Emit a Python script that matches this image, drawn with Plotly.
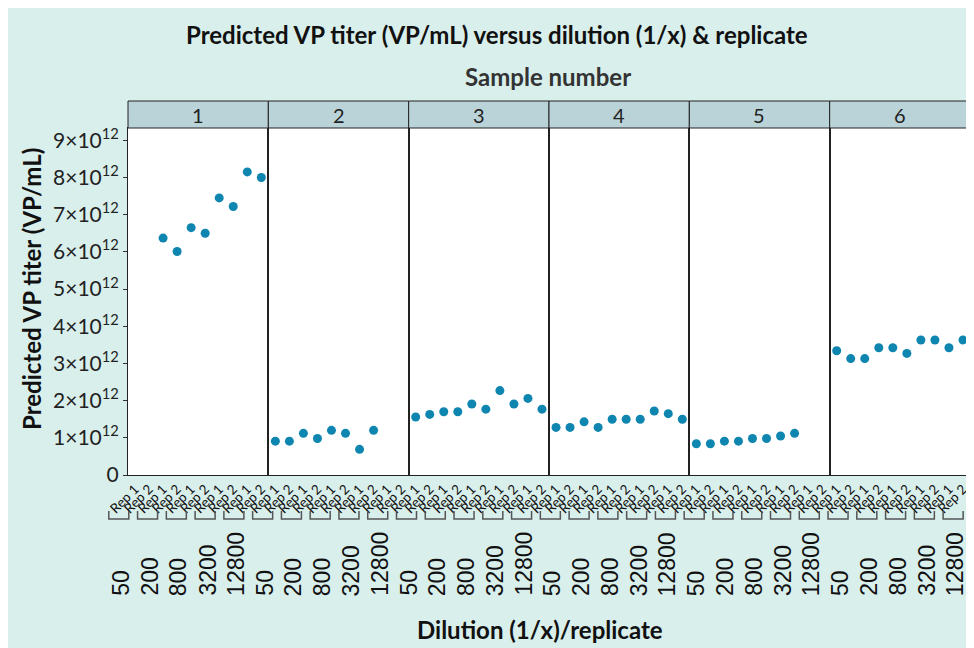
import plotly.graph_objects as go
from plotly.subplots import make_subplots

# ---------------- data ----------------
samples = ["1", "2", "3", "4", "5", "6"]
dilutions = ["50", "200", "800", "3200", "12800"]
replicates = ["Rep 1", "Rep 2"]

titer_s1 = [None, None, 6.37e12, 6.01e12, 6.65e12, 6.50e12, 7.45e12, 7.22e12, 8.15e12, 8.00e12]
titer_s2 = [0.91e12, 0.91e12, 1.12e12, 0.98e12, 1.20e12, 1.12e12, 0.69e12, 1.20e12, None, None]
titer_s3 = [1.56e12, 1.63e12, 1.70e12, 1.70e12, 1.91e12, 1.77e12, 2.27e12, 1.91e12, 2.06e12, 1.77e12]
titer_s4 = [1.28e12, 1.28e12, 1.43e12, 1.28e12, 1.50e12, 1.50e12, 1.50e12, 1.72e12, 1.65e12, 1.50e12]
titer_s5 = [0.84e12, 0.84e12, 0.91e12, 0.91e12, 0.98e12, 0.98e12, 1.05e12, 1.12e12, None, None]
titer_s6 = [3.34e12, 3.13e12, 3.13e12, 3.42e12, 3.42e12, 3.27e12, 3.63e12, 3.63e12, 3.42e12, 3.63e12]
titers = [titer_s1, titer_s2, titer_s3, titer_s4, titer_s5, titer_s6]

y_tick_vals = [0, 1e12, 2e12, 3e12, 4e12, 5e12, 6e12, 7e12, 8e12, 9e12]
y_tick_text = ["0"] + [f"{i}×10<sup>12</sup>" for i in range(1, 10)]

# ---------------- styling / geometry ----------------
W, H = 974, 648
OFF = 8  # page body margin
ML, MR, MT, MB = 120, 12, 120, 181
PW, PH = W - ML - MR, H - MT - MB
TEAL = "#d9efec"
STRIP = "#b9d3d9"
DOT = "#0e86b0"
FONT = "Lato"


def px_x(px):
    return (px - OFF - ML) / PW


def px_y(py):
    return (H - MB - (py - OFF)) / PH


fig = make_subplots(rows=1, cols=6, shared_yaxes=True, horizontal_spacing=0)

cats = [(d, r) for d in dilutions for r in replicates]
for i, vals in enumerate(titers):
    xs = list(range(len(cats)))
    fig.add_trace(
        go.Scatter(
            x=xs, y=vals, mode="markers",
            marker=dict(color=DOT, size=9),
            customdata=[f"{d} {r}" for d, r in cats],
            showlegend=False,
        ),
        row=1, col=i + 1,
    )
    fig.update_xaxes(
        row=1, col=i + 1,
        range=[-0.5, len(cats) - 0.5],
        tickmode="array", tickvals=xs, ticktext=[r for _, r in cats],
        tickangle=-45, tickfont=dict(family=FONT, size=13.5, color="#111"),
        showgrid=False, zeroline=False,
        showline=True, mirror=True, linecolor="#222", linewidth=1,
        ticks="",
    )
    fig.update_yaxes(
        row=1, col=i + 1,
        range=[0, 9.33e12],
        showgrid=False, zeroline=False,
        showline=True, mirror=True, linecolor="#222", linewidth=1,
    )
    # strip header
    xr = "x domain" if i == 0 else f"x{i + 1} domain"
    fig.add_shape(type="rect", xref=xr, yref="paper", x0=0, x1=1,
                  y0=1, y1=px_y(101), fillcolor=STRIP,
                  line=dict(color="#222", width=1))
    fig.add_annotation(xref=xr, yref="paper", x=0.5, y=(1 + px_y(101)) / 2,
                       xanchor="center", yanchor="middle",
                       text=samples[i], showarrow=False,
                       font=dict(family=FONT, size=20, color="#222"))

fig.update_yaxes(
    row=1, col=1,
    tickmode="array", tickvals=y_tick_vals, ticktext=y_tick_text,
    ticks="outside", ticklen=4, tickcolor="#333",
    tickfont=dict(family=FONT, size=21, color="#222"),
)

# dilution brackets and labels (nested axis row)
k = 0
for s in samples:
    for d in dilutions:
        c = 118.8 + k * 28.77
        x0, x1 = px_x(c - 10), px_x(c + 10)
        yt, yb = px_y(511), px_y(519)
        fig.add_shape(type="path", xref="paper", yref="paper",
                      path=f"M {x0} {yt} L {x0} {yb} L {x1} {yb} L {x1} {yt}",
                      line=dict(color="#555", width=1.5))
        fig.add_annotation(xref="paper", yref="paper", x=px_x(c + 2), y=px_y(598),
                           text=d, textangle=-90, showarrow=False,
                           xanchor="center", yanchor="bottom",
                           font=dict(family="Liberation Sans", size=23, color="#111"))
        k += 1

# titles
fig.add_annotation(xref="paper", yref="paper", x=px_x(497), y=px_y(35),
                   xanchor="center", yanchor="middle",
                   text="<b>Predicted VP titer (VP/mL) versus dilution (1/x) &amp; replicate</b>",
                   showarrow=False, font=dict(family=FONT, size=24, color="#111"))
fig.add_annotation(xref="paper", yref="paper", x=px_x(548), y=px_y(76),
                   xanchor="center", yanchor="middle",
                   text="<b>Sample number</b>",
                   showarrow=False, font=dict(family=FONT, size=24, color="#333"))
fig.add_annotation(xref="paper", yref="paper", x=px_x(540), y=px_y(629),
                   xanchor="center", yanchor="middle",
                   text="<b>Dilution (1/x)/replicate</b>",
                   showarrow=False, font=dict(family=FONT, size=24, color="#111"))
fig.add_annotation(xref="paper", yref="paper", x=px_x(31), y=px_y(289),
                   xanchor="center", yanchor="middle", textangle=-90,
                   text="<b>Predicted VP titer (VP/mL)</b>",
                   showarrow=False, font=dict(family=FONT, size=24, color="#111"))

fig.update_layout(
    width=W, height=H,
    margin=dict(l=ML, r=MR, t=MT, b=MB),
    paper_bgcolor=TEAL, plot_bgcolor="white",
    font=dict(family=FONT),
)

fig.write_html("out.html")
